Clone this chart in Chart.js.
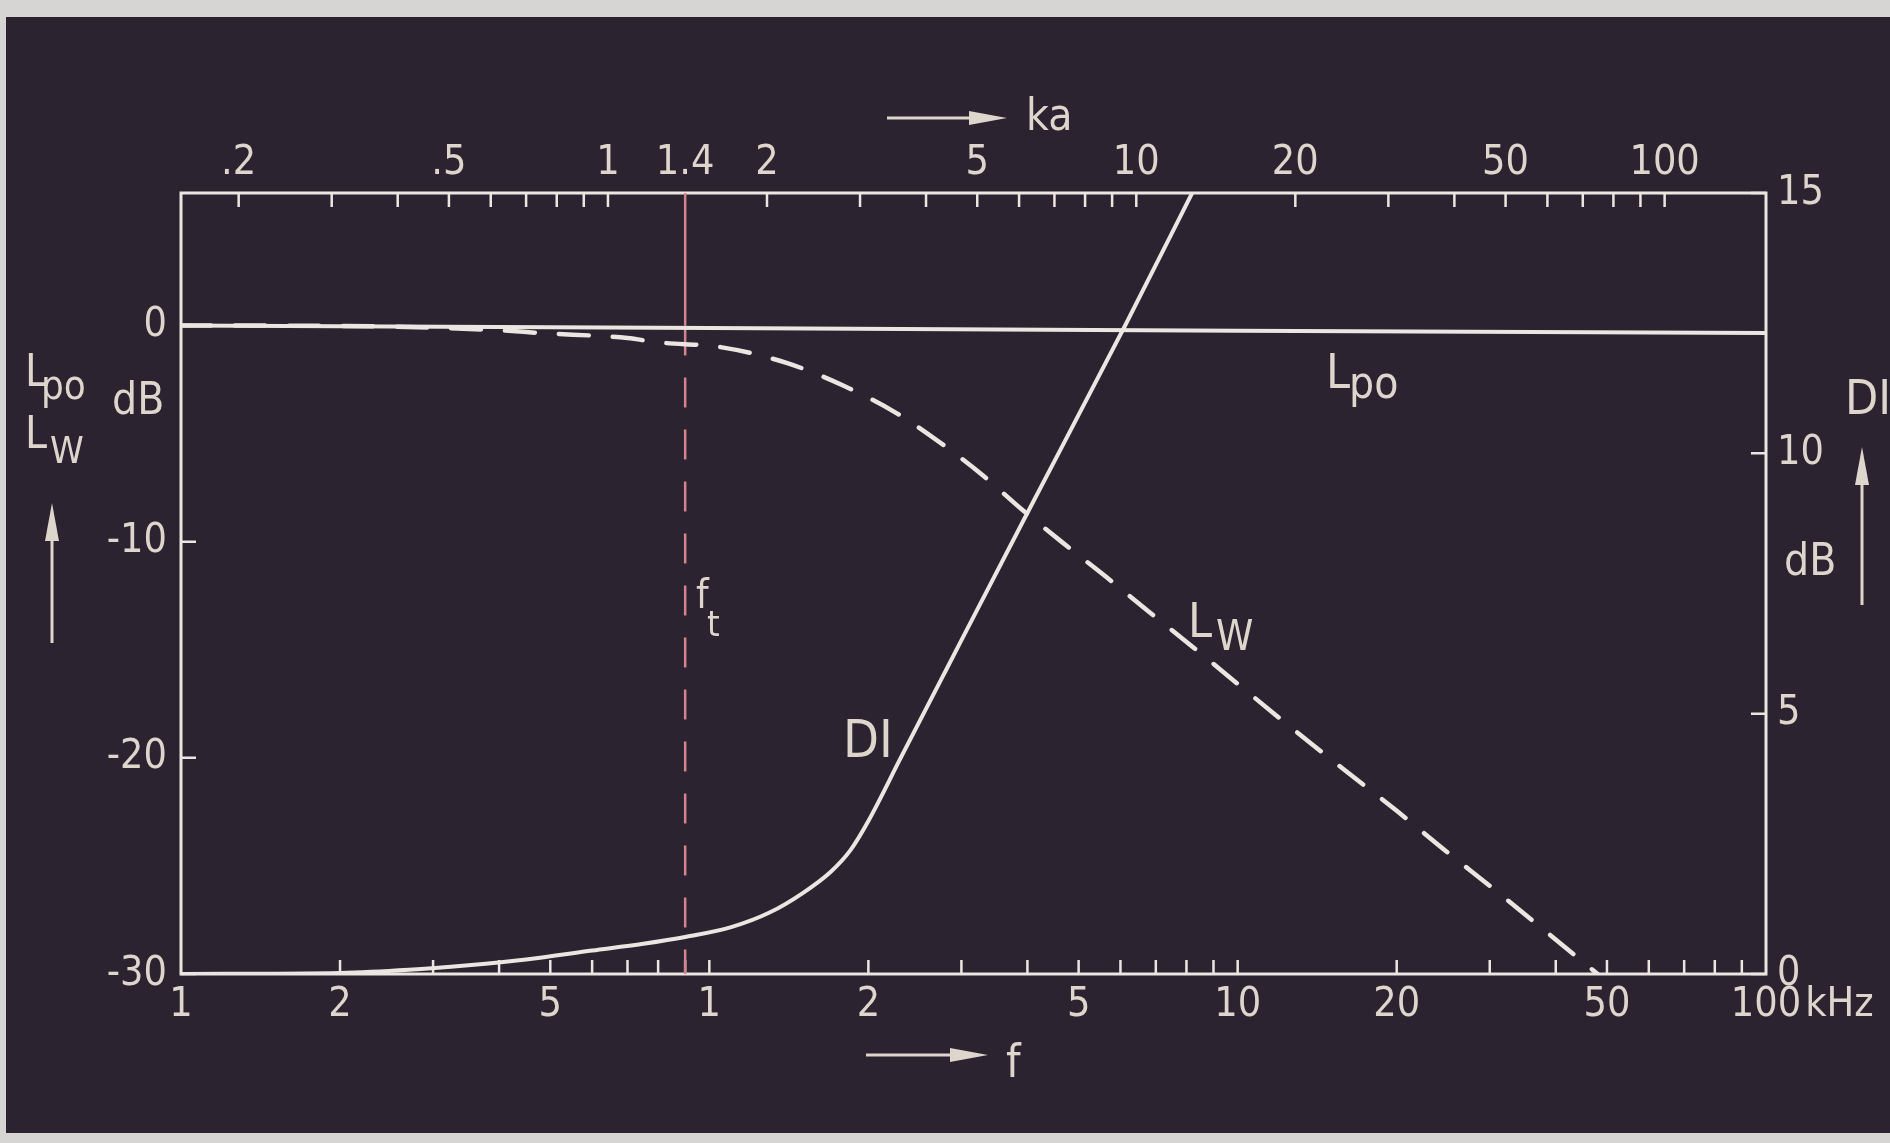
<!DOCTYPE html>
<html>
<head>
<meta charset="utf-8">
<script src="https://cdn.jsdelivr.net/npm/chart.js@4.4.1/dist/chart.umd.min.js"></script>
<style>
  html, body { margin: 0; padding: 0; background: #d7d4d4; }
  #chart { display: block; }
</style>
</head>
<body>
<canvas id="chart" width="1890" height="1143"></canvas>
<script>
// frequencies in kHz, levels in dB
var lpoFreq = [0.1, 1, 10, 100];
var lpoLevel = [0, -0.12, -0.24, -0.35];

var lwFreq = [0.1, 0.2, 0.3, 0.4, 0.48, 0.7, 0.8, 1.05, 1.4, 1.8, 2.26, 2.8, 3.3, 3.9,
    4.75, 5.65, 6.8, 8.3, 10.2, 12.7, 16, 20, 24.6, 31, 38.6, 48];
var lwLevel = [0, -0.02, -0.1, -0.22, -0.35, -0.58, -0.78, -1.0, -1.73, -2.8, -4.05, -5.6, -6.95, -8.5,
    -10.2, -11.65, -13.25, -14.95, -16.75, -18.65, -20.6, -22.45, -24.25, -26.2, -28.1, -30];

var diFreq = [0.1, 0.2, 0.27, 0.35, 0.45, 0.6, 0.75, 0.9, 1.1, 1.3, 1.5, 1.7, 1.85, 2.0, 2.3, 2.8, 3.94, 6.12, 8.2];
var diValue = [0, 0.02, 0.08, 0.17, 0.28, 0.45, 0.58, 0.71, 0.9, 1.18, 1.55, 1.97, 2.38, 2.94, 4.14, 5.82, 8.73, 12.45, 15.0];

var ftFreq = 0.9;   // f_t, where ka = 1.4
var ftKa = 1.4;

var fTicks = [0.1, 0.2, 0.5, 1, 2, 5, 10, 20, 50, 100];
var fTickLabels = ['1', '2', '5', '1', '2', '5', '10', '20', '50', '100'];
var kaTicks = [0.2, 0.5, 1, 1.4, 2, 5, 10, 20, 50, 100];
var kaTickLabels = ['.2', '.5', '1', '1.4', '2', '5', '10', '20', '50', '100'];
var levelTicks = [0, -10, -20, -30];
var diTicks = [0, 5, 10, 15];

var levelMin = -30, levelMax = 6.13;
var kaPerKHz = ftKa / ftFreq;

var FONT = '"DejaVu Sans Condensed", "Liberation Sans Narrow", sans-serif';
var INK = '#dcd6cd';
var LINE = '#ebe6e1';
var FT_COLOR = '#d9828f';

function pairs(xs, ys) {
    return xs.map(function (x, i) { return { x: x, y: ys[i] }; });
}

// 1..9 times each power of ten strictly inside (lo, hi)
function minorTicks(lo, hi) {
    var out = [];
    for (var e = -2; e <= 3; e++) {
        for (var n = 1; n <= 9; n++) {
            var v = n * Math.pow(10, e);
            if (v > lo * 1.01 && v < hi * 0.99) out.push(v);
        }
    }
    return out;
}

function label(ctx, s, x, y, size, align, base) {
    ctx.font = size + 'px ' + FONT;
    ctx.textAlign = align || 'center';
    ctx.textBaseline = base || 'middle';
    ctx.fillText(s, x, y);
}

function subLabel(ctx, main, sub, x, y, size, subX, subY, subSize) {
    ctx.font = size + 'px ' + FONT;
    ctx.textAlign = 'left';
    ctx.textBaseline = 'alphabetic';
    ctx.fillText(main, x, y);
    ctx.font = subSize + 'px ' + FONT;
    ctx.fillText(sub, subX, subY);
}

function arrow(ctx, x1, y1, x2, y2) {
    var a = Math.atan2(y2 - y1, x2 - x1);
    var len = 38, half = 7;
    ctx.beginPath();
    ctx.moveTo(x1, y1);
    ctx.lineTo(x2 - Math.cos(a) * len * 0.6, y2 - Math.sin(a) * len * 0.6);
    ctx.stroke();
    ctx.beginPath();
    ctx.moveTo(x2, y2);
    ctx.lineTo(x2 - Math.cos(a) * len - Math.sin(a) * half, y2 - Math.sin(a) * len + Math.cos(a) * half);
    ctx.lineTo(x2 - Math.cos(a) * len + Math.sin(a) * half, y2 - Math.sin(a) * len - Math.cos(a) * half);
    ctx.closePath();
    ctx.fill();
}

var frame = {
    id: 'frame',
    beforeDraw: function (chart) {
        var ctx = chart.ctx;
        ctx.save();
        ctx.fillStyle = '#d7d4d4';
        ctx.fillRect(0, 0, chart.width, chart.height);
        ctx.fillStyle = '#2b2330';
        ctx.fillRect(6, 17, chart.width - 6, 1116);
        ctx.restore();
    },
    beforeDatasetsDraw: function (chart) {
        var ctx = chart.ctx;
        var a = chart.chartArea;
        var sx = chart.scales.x, ska = chart.scales.ka, sy = chart.scales.y, sdi = chart.scales.di;
        ctx.save();
        ctx.strokeStyle = LINE;
        ctx.lineWidth = 3;
        ctx.strokeRect(a.left, a.top, a.right - a.left, a.bottom - a.top);

        ctx.lineWidth = 2.5;
        ctx.beginPath();
        minorTicks(0.1, 100).forEach(function (v) {
            var px = sx.getPixelForValue(v);
            ctx.moveTo(px, a.bottom);
            ctx.lineTo(px, a.bottom - 14);
        });
        minorTicks(ska.min, ska.max).forEach(function (v) {
            var px = ska.getPixelForValue(v);
            ctx.moveTo(px, a.top);
            ctx.lineTo(px, a.top + 14);
        });
        levelTicks.forEach(function (v) {
            var py = sy.getPixelForValue(v);
            ctx.moveTo(a.left, py);
            ctx.lineTo(a.left + 15, py);
        });
        diTicks.forEach(function (v) {
            var py = sdi.getPixelForValue(v);
            ctx.moveTo(a.right, py);
            ctx.lineTo(a.right - 15, py);
        });
        ctx.stroke();
        ctx.restore();
    },
    afterDraw: function (chart) {
        var ctx = chart.ctx;
        var a = chart.chartArea;
        var sx = chart.scales.x, ska = chart.scales.ka, sy = chart.scales.y, sdi = chart.scales.di;
        ctx.save();
        ctx.fillStyle = INK;
        ctx.strokeStyle = INK;

        fTicks.forEach(function (v, i) {
            label(ctx, fTickLabels[i], sx.getPixelForValue(v), a.bottom + 31, 41);
        });
        ctx.font = '41px ' + FONT;
        var w100 = ctx.measureText('100').width;
        label(ctx, 'kHz', sx.getPixelForValue(100) + w100 / 2 + 4, a.bottom + 31, 41, 'left');

        kaTicks.forEach(function (v, i) {
            label(ctx, kaTickLabels[i], ska.getPixelForValue(v), a.top - 30, 41);
        });
        levelTicks.forEach(function (v) {
            label(ctx, String(v), a.left - 14, sy.getPixelForValue(v), 41, 'right');
        });
        diTicks.forEach(function (v) {
            label(ctx, String(v), a.right + 11, sdi.getPixelForValue(v), 41, 'left');
        });

        // axis titles
        ctx.lineWidth = 3;
        arrow(ctx, 887, 118, 1007, 118);
        label(ctx, 'ka', 1026, 130, 44, 'left', 'alphabetic');
        arrow(ctx, 866, 1055, 988, 1055);
        label(ctx, 'f', 1006, 1077, 46, 'left', 'alphabetic');

        subLabel(ctx, 'L', 'po', 25, 386, 44, 41, 399, 40);
        label(ctx, 'dB', 112, 414, 44, 'left', 'alphabetic');
        subLabel(ctx, 'L', 'W', 25, 448, 44, 50, 463, 38);
        arrow(ctx, 52, 643, 52, 503);

        label(ctx, 'DI', 1845, 414, 48, 'left', 'alphabetic');
        label(ctx, 'dB', 1784, 575, 44, 'left', 'alphabetic');
        arrow(ctx, 1862, 605, 1862, 447);

        // curve names
        subLabel(ctx, 'L', 'po', 1326, 388, 48, 1349, 398, 44);
        subLabel(ctx, 'L', 'W', 1188, 637, 48, 1216, 650, 42);
        label(ctx, 'DI', 843, 757, 52, 'left', 'alphabetic');
        subLabel(ctx, 'f', 't', 696, 608, 40, 707, 636, 36);
        ctx.restore();
    }
};

var config = {
    type: 'line',
    data: {
        datasets: [{
            label: 'Lpo',
            data: pairs(lpoFreq, lpoLevel),
            xAxisID: 'x',
            yAxisID: 'y',
            borderColor: LINE,
            borderWidth: 4,
            tension: 0
        }, {
            label: 'Lw',
            data: pairs(lwFreq, lwLevel),
            xAxisID: 'x',
            yAxisID: 'y',
            borderColor: LINE,
            borderWidth: 4.5,
            borderDash: [30, 24],
            borderCapStyle: 'round',
            cubicInterpolationMode: 'monotone'
        }, {
            label: 'DI',
            data: pairs(diFreq, diValue),
            xAxisID: 'x',
            yAxisID: 'di',
            borderColor: LINE,
            borderWidth: 4,
            cubicInterpolationMode: 'monotone'
        }, {
            label: 'ft',
            data: [{ x: ftFreq, y: levelMax }, { x: ftFreq, y: 0 }],
            xAxisID: 'x',
            yAxisID: 'y',
            borderColor: FT_COLOR,
            borderWidth: 2.5
        }, {
            label: 'ft below',
            data: [{ x: ftFreq, y: 0 }, { x: ftFreq, y: levelMin }],
            xAxisID: 'x',
            yAxisID: 'y',
            borderColor: FT_COLOR,
            borderWidth: 2.5,
            borderDash: [30, 22]
        }]
    },
    options: {
        responsive: false,
        animation: false,
        devicePixelRatio: 1,
        layout: {
            padding: { left: 181, right: 124, top: 193, bottom: 169 }
        },
        elements: {
            point: { radius: 0 }
        },
        plugins: {
            legend: { display: false },
            tooltip: { enabled: false }
        },
        scales: {
            x: { type: 'logarithmic', axis: 'x', position: 'bottom', min: 0.1, max: 100, display: false },
            ka: { type: 'logarithmic', axis: 'x', position: 'top', min: 0.1 * kaPerKHz, max: 100 * kaPerKHz, display: false },
            y: { type: 'linear', axis: 'y', position: 'left', min: levelMin, max: levelMax, display: false },
            di: { type: 'linear', axis: 'y', position: 'right', min: 0, max: 15, display: false }
        }
    },
    plugins: [frame]
};

var ctx = document.getElementById('chart').getContext('2d');
new Chart(ctx, config);
</script>
</body>
</html>
